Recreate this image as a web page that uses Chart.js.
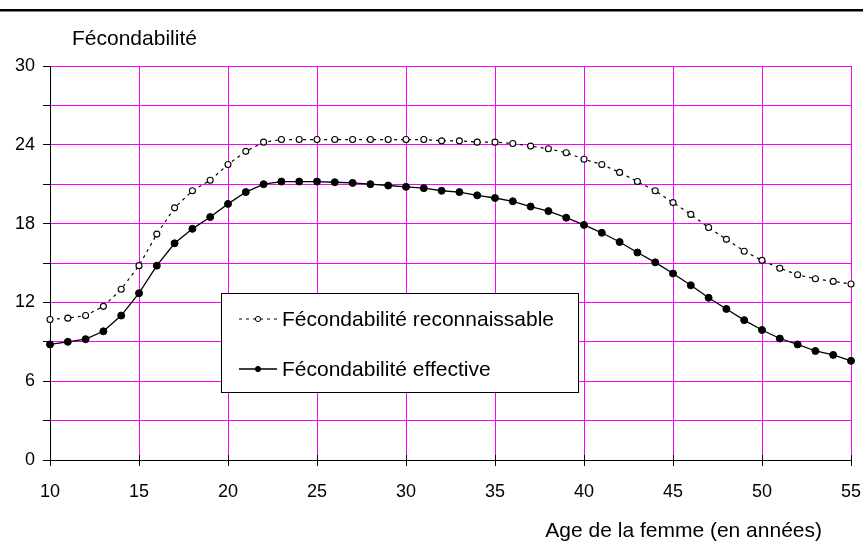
<!DOCTYPE html>
<html>
<head>
<meta charset="utf-8">
<script src="https://cdn.jsdelivr.net/npm/chart.js@4.4.1/dist/chart.umd.min.js"></script>
<style>
  html, body { margin: 0; padding: 0; background: #fff; }
  #wrap { width: 863px; height: 543px; }
</style>
</head>
<body>
<div id="wrap"><canvas id="graph1" width="863" height="543"></canvas></div>
<script>
// Age de la femme (années)
const ages = [10, 11, 12, 13, 14, 15, 16, 17, 18, 19, 20, 21, 22, 23, 24, 25, 26, 27, 28, 29, 30, 31, 32,
              33, 34, 35, 36, 37, 38, 39, 40, 41, 42, 43, 44, 45, 46, 47, 48, 49, 50, 51, 52, 53, 54, 55];

const reconnaissable = [10.7, 10.8, 11.0, 11.7, 13.0, 14.8, 17.2, 19.2, 20.5, 21.3, 22.5, 23.5, 24.2, 24.4,
                        24.4, 24.4, 24.4, 24.4, 24.4, 24.4, 24.4, 24.4, 24.3, 24.3, 24.2, 24.2, 24.1, 23.9,
                        23.7, 23.4, 22.9, 22.5, 21.9, 21.2, 20.5, 19.6, 18.7, 17.7, 16.8, 15.9, 15.2, 14.6,
                        14.1, 13.8, 13.6, 13.4];

const effective = [8.8, 9.0, 9.2, 9.8, 11.0, 12.7, 14.8, 16.5, 17.6, 18.5, 19.5, 20.4, 21.0, 21.2,
                   21.2, 21.2, 21.15, 21.1, 21.0, 20.9, 20.8, 20.7, 20.5, 20.4, 20.15, 19.95, 19.7, 19.3,
                   18.95, 18.45, 17.9, 17.3, 16.6, 15.8, 15.05, 14.2, 13.3, 12.35, 11.5, 10.65, 9.9, 9.25,
                   8.8, 8.3, 8.0, 7.55];

const seriesNames = ['Fécondabilité reconnaissable', 'Fécondabilité effective'];
const yTitle = 'Fécondabilité';
const xTitle = 'Age de la femme (en années)';

const FONT = '"Liberation Sans", Arial, sans-serif';

// titles, top rule and the boxed legend drawn on the canvas
const decorations = {
    id: 'decorations',
    afterDatasetsDraw(chart) {
        const ctx = chart.ctx;
        const area = chart.chartArea;
        ctx.save();

        // top rule
        ctx.fillStyle = '#000';
        ctx.fillRect(0, 9, chart.width, 2.5);

        // x ticks also poke a little above the axis
        const xs = chart.scales.x;
        ctx.strokeStyle = '#000';
        ctx.lineWidth = 1;
        xs.ticks.forEach(t => {
            const px = Math.round(xs.getPixelForValue(t.value)) + 0.5;
            ctx.beginPath();
            ctx.moveTo(px, area.bottom - 5);
            ctx.lineTo(px, area.bottom);
            ctx.stroke();
        });

        ctx.fillStyle = '#000';
        ctx.font = '21px ' + FONT;
        ctx.textBaseline = 'alphabetic';
        ctx.textAlign = 'left';
        ctx.fillText(yTitle, area.left + 22, 45);
        ctx.textAlign = 'right';
        ctx.fillText(xTitle, area.right - 29, 537);

        // legend box
        const bx = 221, by = 293, bw = 357, bh = 99;
        ctx.fillStyle = '#fff';
        ctx.fillRect(bx, by, bw, bh);
        ctx.strokeStyle = '#000';
        ctx.lineWidth = 1;
        ctx.strokeRect(bx + 0.5, by + 0.5, bw, bh);

        chart.data.datasets.forEach((ds, i) => {
            const y = 319 + i * 50;
            ctx.beginPath();
            ctx.setLineDash(ds.borderDash || []);
            ctx.strokeStyle = '#000';
            ctx.lineWidth = ds.borderWidth;
            ctx.moveTo(239, y);
            ctx.lineTo(277, y);
            ctx.stroke();
            ctx.setLineDash([]);
            ctx.lineWidth = 1;
            ctx.beginPath();
            ctx.arc(258, y, 2.6, 0, Math.PI * 2);
            ctx.fillStyle = ds.pointBackgroundColor;
            ctx.fill();
            ctx.stroke();

            ctx.fillStyle = '#000';
            ctx.textAlign = 'left';
            ctx.font = '21px ' + FONT;
            ctx.fillText(ds.label, 282, y + 7);
        });
        ctx.restore();
    }
};

new Chart(document.getElementById('graph1'), {
    type: 'line',
    data: {
        datasets: [
            {
                label: seriesNames[0],
                data: ages.map((a, i) => ({ x: a, y: reconnaissable[i] })),
                borderColor: '#000',
                borderWidth: 1.2,
                borderDash: [3, 4],
                pointRadius: 3,
                pointBorderWidth: 1.1,
                pointBackgroundColor: '#fff',
                pointBorderColor: '#000',
                tension: 0,
                clip: false
            },
            {
                label: seriesNames[1],
                data: ages.map((a, i) => ({ x: a, y: effective[i] })),
                borderColor: '#000',
                borderWidth: 1.3,
                pointRadius: 3.5,
                pointBorderWidth: 1,
                pointBackgroundColor: '#000',
                pointBorderColor: '#000',
                tension: 0,
                clip: false
            }
        ]
    },
    options: {
        responsive: false,
        animation: false,
        layout: { padding: { left: 0, right: 12, top: 66, bottom: 0 } },
        plugins: {
            legend: { display: false },
            title: { display: false },
            tooltip: { enabled: false }
        },
        scales: {
            x: {
                type: 'linear',
                min: 10,
                max: 55,
                afterFit(scale) {
                    scale.height = 83;
                    scale.paddingLeft = 0;
                    scale.paddingRight = 0;
                },
                ticks: {
                    stepSize: 5,
                    color: '#000',
                    font: { family: FONT, size: 18 },
                    padding: 15,
                    maxRotation: 0
                },
                grid: { color: '#ff00ff', lineWidth: 1, tickColor: '#000', tickLength: 6 },
                border: { color: '#000', width: 1 }
            },
            y: {
                min: 0,
                max: 30,
                afterFit(scale) {
                    scale.width = 50;
                    scale.paddingTop = 0;
                    scale.paddingBottom = 0;
                },
                ticks: {
                    stepSize: 3,
                    color: '#000',
                    font: { family: FONT, size: 18 },
                    padding: 8,
                    callback: v => (v % 6 === 0 ? v : '')
                },
                grid: { color: '#ff00ff', lineWidth: 1, tickColor: '#000', tickLength: 7 },
                border: { color: '#000', width: 1 }
            }
        }
    },
    plugins: [decorations]
});
</script>
</body>
</html>
